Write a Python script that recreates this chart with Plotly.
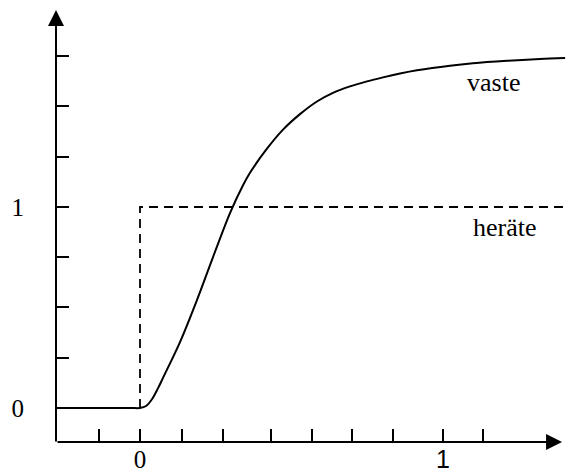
import plotly.graph_objects as go

# ---- data ----
resp_x = [-0.277, -0.15, -0.03, 0.0, 0.020, 0.040, 0.060, 0.076, 0.132, 0.188, 0.241, 0.297, 0.340, 0.363, 0.419, 0.472,
          0.528, 0.584, 0.637, 0.693, 0.749, 0.802, 0.858, 0.914, 1.023, 1.099, 1.211, 1.320, 1.403]
resp_y = [0.0, 0.0, 0.0, 0.0, 0.010, 0.045, 0.100, 0.150, 0.328, 0.537, 0.751, 0.970, 1.108, 1.170, 1.290, 1.385,
          1.462, 1.525, 1.568, 1.600, 1.625, 1.645, 1.664, 1.680, 1.703, 1.715, 1.727, 1.736, 1.741]
step_x = [0.0, 0.0, 1.413]
step_y = [0.0, 1.0, 1.0]

x_tickvals = [-0.135, 0.0, 0.139, 0.274, 0.432, 0.568, 0.700, 0.835, 1.0, 1.132]
x_ticktext = ["", "0", "", "", "", "", "", "", "<span style='font-family:Liberation Sans'>1</span>", ""]
y_tickvals = [0, 0.25, 0.5, 0.75, 1.0, 1.25, 1.5, 1.75]
y_ticktext = ["0", "", "", "", "1", "", "", ""]

resp_label = "vaste"
step_label = "heräte"

X_MIN, X_MAX = -0.2772, 1.4455
Y_MIN, Y_MAX = -0.1692, 1.990
X_TIP = 1.393
Y_TIP = 1.980

fig = go.Figure()
fig.add_trace(go.Scatter(x=resp_x, y=resp_y, mode="lines",
                         line=dict(color="black", width=2, shape="spline", smoothing=0.9),
                         hoverinfo="skip", showlegend=False, cliponaxis=False))
fig.add_trace(go.Scatter(x=step_x, y=step_y, mode="lines",
                         line=dict(color="black", width=1.8, dash="9px,6px"),
                         hoverinfo="skip", showlegend=False, cliponaxis=False))

# axes drawn as arrows
fig.add_annotation(x=X_TIP, y=Y_MIN, ax=X_MIN, ay=Y_MIN, xref="x", yref="y", axref="x", ayref="y",
                   text="", showarrow=True, arrowhead=2, arrowsize=1.6, arrowwidth=2, arrowcolor="black")
fig.add_annotation(x=X_MIN, y=Y_TIP, ax=X_MIN, ay=Y_MIN - 0.005, xref="x", yref="y", axref="x", ayref="y",
                   text="", showarrow=True, arrowhead=2, arrowsize=1.6, arrowwidth=2, arrowcolor="black")

fig.add_annotation(x=1.165, y=1.617, xref="x", yref="y", text=resp_label, showarrow=False,
                   font=dict(family="Liberation Serif", size=26, color="black"))
fig.add_annotation(x=1.205, y=0.896, xref="x", yref="y", text=step_label, showarrow=False,
                   font=dict(family="Liberation Serif", size=26, color="black"))
fig.add_annotation(x=(582 - 56) / 522, y=1 - (454 - 8) / 434, xref="paper", yref="paper", text="<i>t</i>",
                   showarrow=False, xanchor="center", yanchor="middle",
                   font=dict(family="Liberation Serif", size=24, color="black"))

fig.update_layout(
    width=578, height=473,
    margin=dict(l=48, r=8, t=0, b=39),
    paper_bgcolor="white", plot_bgcolor="white",
    xaxis=dict(range=[X_MIN, X_MAX], showgrid=False, zeroline=False, showline=False, automargin=False,
               ticks="inside", ticklen=13, tickwidth=2, tickcolor="black",
               tickvals=x_tickvals, ticktext=x_ticktext,
               tickfont=dict(family="Liberation Serif", size=25, color="black")),
    yaxis=dict(range=[Y_MIN, Y_MAX], showgrid=False, zeroline=False, showline=False, automargin=False,
               ticks="inside", ticklen=13, tickwidth=2, tickcolor="black",
               tickvals=y_tickvals, ticktext=y_ticktext, ticklabelstandoff=31,
               tickfont=dict(family="Liberation Serif", size=25, color="black")),
)

fig.write_html("out.html")
